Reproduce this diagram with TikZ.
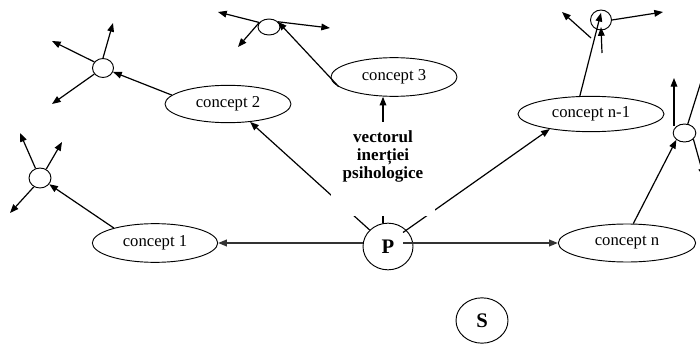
\documentclass[tikz,border=0pt]{standalone}
\usepackage{fontspec}
\setmainfont{Liberation Serif}
\usetikzlibrary{arrows.meta,shapes.geometric,calc}
\begin{document}
\begin{tikzpicture}[x=0.75pt,y=-0.75pt,
  concept/.style={ellipse,draw,line width=0.7pt,inner sep=0pt,font=\fontsize{12.5}{14}\selectfont},
  knot/.style={ellipse,draw,line width=0.7pt,inner sep=0pt,minimum width=16pt,minimum height=14pt},
  big/.style={ellipse,draw,line width=0.7pt,inner sep=0pt,font=\fontsize{15.5}{17}\selectfont\bfseries},
  arr/.style={line width=0.9pt,-{Triangle[length=6.5pt,width=5pt]}},
  greyarr/.style={arr,line width=1.1pt,color=black!80},
  mask/.style={fill=white,inner sep=0pt,minimum width=78pt,minimum height=70.5pt},
  lbltext/.style={font=\fontsize{12.8}{13.5}\selectfont\bfseries,align=center,inner sep=0pt}]
\useasboundingbox (0,0) rectangle (700,346);
\clip (0,0) rectangle (700,346);

% main nodes
\node[concept,minimum width=94pt,minimum height=29pt] (c1) at (155,243) {concept 1};
\node[concept,minimum width=94.5pt,minimum height=28pt] (c2) at (228,104) {concept 2};
\node[concept,minimum width=94.5pt,minimum height=29pt] (c3) at (394,77) {concept 3};
\node[concept,minimum width=109.5pt,minimum height=26.5pt] (cn1) at (591,114) {concept n-1};
\node[concept,minimum width=103pt,minimum height=28.5pt] (cn) at (627,243) {concept n};
\node[big,minimum width=37.5pt,minimum height=35pt] (P) at (388,246.5) {P};
\node[big,minimum width=39pt,minimum height=34pt] (S) at (482,320.5) {S};

% small knots
\node[knot,minimum width=16.5pt,minimum height=15pt] (k1) at (40,178) {};
\node[knot,minimum width=15.75pt,minimum height=14.25pt] (k2) at (103,68) {};
\node[knot,minimum width=16.5pt,minimum height=12pt] (k3) at (269,27) {};
\node[knot,minimum width=15.75pt,minimum height=15pt] (kn1) at (601,20) {};
\node[knot,minimum width=17pt,minimum height=13.5pt] (kn) at (684.5,133) {};

% free ends
\coordinate (k1a) at (20,133);
\coordinate (k1b) at (62,142);
\coordinate (k1c) at (10,213);
\coordinate (k2a) at (113,23);
\coordinate (k2b) at (52,41);
\coordinate (k2c) at (52,104);
\coordinate (k3a) at (218,12);
\coordinate (k3b) at (238,47);
\coordinate (k3c) at (330,28);
\coordinate (kn1a) at (562,12);
\coordinate (kn1b) at (663,12);
\coordinate (kn1s) at (591,38);
\coordinate (kn1t) at (602,53);
\coordinate (kna) at (674,78);
\coordinate (knb) at (706,66);
\coordinate (knc) at (704,177);
\coordinate (vx) at (383,160);

% knot connectors
\draw[arr] (c1.160) -- (k1);
\draw[arr] (k1.115) -- (k1a);
\draw[arr] (k1.55) -- (k1b);
\draw[arr] (k1.235) -- (k1c);
\draw[arr] (c2.171) -- (k2);
\draw[arr] (k2.north) -- (k2a);
\draw[arr] (k2.145) -- (k2b);
\draw[arr] (k2.215) -- (k2c);
\draw[arr] (c3.190) -- (k3.30);
\draw[arr] (k3.155) -- (k3a);
\draw[arr] (k3.155) -- (k3b);
\draw[arr] (k3.30) -- (k3c);
\draw[arr] (cn1.122) -- ([yshift=-2.5pt]kn1.north);
\draw[arr] (kn1t) -- ([yshift=2.5pt]kn1.south);
\draw[arr] (kn1s) -- (kn1a);
\draw[arr] (kn1.east) -- (kn1b);
\draw[arr] (cn.72) -- (kn.220);
\draw[arr] (kn.140 -| kna) -- (kna);
\draw[arr] (kn.70) -- (knb);
\draw[arr] (kn.-35) -- (knc);

% connectors from P
\draw[greyarr] (P.west |- c1.east) -- (c1.east);
\draw[greyarr] ([xshift=-7.5pt]P.east |- cn.west) -- (cn.west);
\draw[arr] (P.138) -- (c2.-39);
\draw[arr] ($(P.center)+(15,-14)$) -- (cn1.200);
\draw[arr] (P.north -| vx) -- (c3.south -| vx);

% label with white background
\node[mask] (lblbox) at (383,169) {};
\node[lbltext] (lbl) at (383,156) {vectorul\\inerției\\psihologice};
\end{tikzpicture}
\end{document}
